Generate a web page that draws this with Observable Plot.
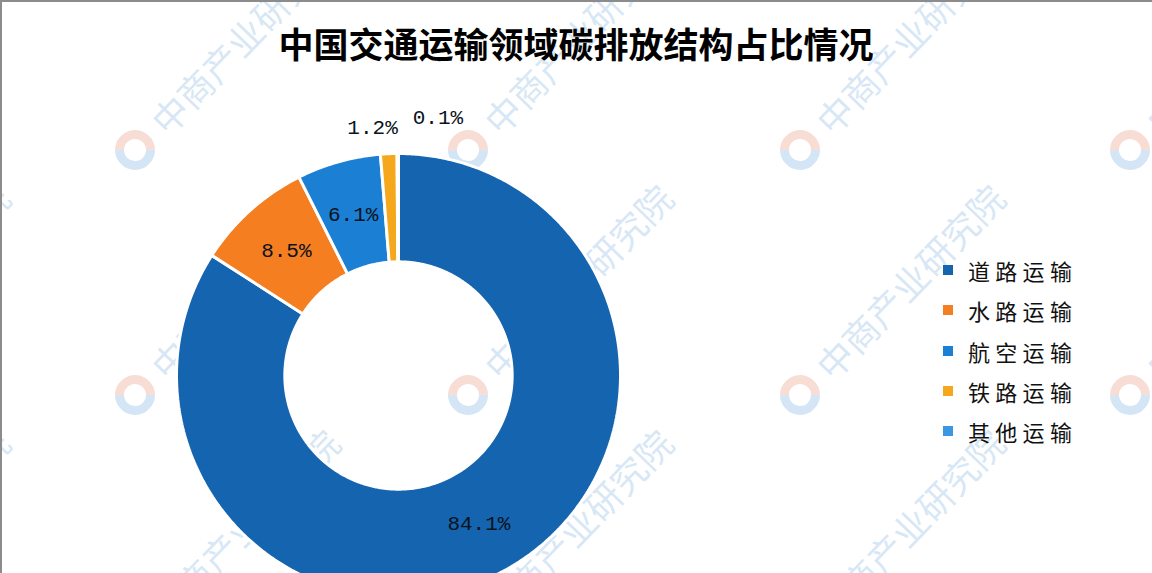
<!DOCTYPE html>
<html>
<head>
<meta charset="utf-8">
<script src="https://cdn.jsdelivr.net/npm/d3@7"></script>
<script src="https://cdn.jsdelivr.net/npm/@observablehq/plot@0.6"></script>
<style>
  html, body { margin: 0; padding: 0; background: #fff; }
  #wrap { position: relative; width: 1152px; height: 573px; overflow: hidden; background: #fff; }
  #wm { position: absolute; left: 0; top: 0; width: 1152px; height: 573px; }
  .wmitem { position: absolute; transform-origin: 0 0; transform: rotate(-46deg); white-space: nowrap;
            font-family: "Noto Sans CJK SC", sans-serif; font-size: 36px; color: rgba(160,198,232,0.42); }
  .wmlogo { position: absolute; left: -20px; top: -20px; width: 40px; height: 40px; border-radius: 50%;
            box-sizing: border-box; border: 9px solid rgba(160,198,232,0.45); border-right-color: rgba(240,180,160,0.45); border-top-color: rgba(240,180,160,0.45); }
  .wmtext { position: absolute; left: 32px; top: -27px; }
  #chart { position: absolute; left: 0; top: 0; }
  #title { position: absolute; left: 0; top: 19px; width: 1152px; text-align: center;
           font-family: "Noto Sans CJK SC", sans-serif; font-weight: 700; font-size: 35px; line-height: 48px; color: #000; }
  #legend { position: absolute; left: 943px; top: 250px; font-family: "Noto Sans CJK SC", sans-serif; }
  .lg { position: absolute; left: 0; height: 40px; display: flex; align-items: center; white-space: nowrap; }
  .sw { width: 10px; height: 10px; margin-right: 15px; }
  .lt { font-size: 22px; letter-spacing: 5.3px; color: #111; }
  #frame { position: absolute; left: 0; top: 0; width: 1152px; height: 573px; box-sizing: border-box;
           border-top: 2px solid #8c8c8c; border-left: 2px solid #8c8c8c; pointer-events: none; }
</style>
</head>
<body>
<div id="wrap">
  <div id="wm"></div>
  <div id="chart"></div>
  <div id="title"></div>
  <div id="legend"></div>
  <div id="frame"></div>
</div>
<script>
// ---- data ----
const titleText = "中国交通运输领域碳排放结构占比情况";
const categories = ["道路运输", "水路运输", "航空运输", "铁路运输", "其他运输"];
const shares = [84.1, 8.5, 6.1, 1.2, 0.1];
const labelTexts = ["84.1%", "8.5%", "6.1%", "1.2%", "0.1%"];
const colors = ["#1564AF", "#F47E20", "#1B7FD4", "#F6A81C", "#3C96E0"];
const watermarkText = "中商产业研究院";

// ---- layout ----
const cx = 398, cy = 375, R = 222;
const innerFrac = 0.512;

document.getElementById("title").textContent = titleText;

// slice geometry
const total = d3.sum(shares);
let cum = 0;
const slices = categories.map((cat, i) => {
  const a0 = cum / total * 2 * Math.PI;
  cum += shares[i];
  const a1 = cum / total * 2 * Math.PI;
  return {cat, a0, a1, share: shares[i], label: labelTexts[i]};
});
const pts = [];
for (const s of slices) {
  const n = Math.max(2, Math.ceil((s.a1 - s.a0) / (Math.PI / 360)));
  for (let k = 0; k <= n; k++) {
    const a = s.a0 + (s.a1 - s.a0) * k / n;
    pts.push({cat: s.cat, x: Math.sin(a), y: Math.cos(a)});
  }
  for (let k = n; k >= 0; k--) {
    const a = s.a0 + (s.a1 - s.a0) * k / n;
    pts.push({cat: s.cat, x: innerFrac * Math.sin(a), y: innerFrac * Math.cos(a)});
  }
}
const mid = s => (s.a0 + s.a1) / 2;
const rMid = (1 + innerFrac) / 2;
const inside = slices.filter(s => s.share >= 5).map(s => ({label: s.label, x: rMid * Math.sin(mid(s)), y: rMid * Math.cos(mid(s))}));
const outside = slices.filter(s => s.share < 5).map(s => ({label: s.label, x: 1.1 * Math.sin(mid(s)), y: 1.1 * Math.cos(mid(s))}));

const labelStyle = {fontSize: 21, fill: "#0b1220", fontFamily: "'Liberation Mono', 'DejaVu Sans Mono', monospace"};

const plot = Plot.plot({
  width: 1152,
  height: 573,
  margin: 0,
  x: {domain: [-1, 1], range: [cx - R, cx + R], axis: null},
  y: {domain: [-1, 1], range: [cy + R, cy - R], axis: null},
  color: {domain: categories, range: colors},
  style: {background: "transparent", overflow: "visible"},
  marks: [
    Plot.line(pts, {x: "x", y: "y", z: "cat", fill: "cat", stroke: "white", strokeWidth: 3, strokeLinejoin: "miter", curve: "linear-closed"}),
    Plot.text(inside, {x: "x", y: "y", text: "label", ...labelStyle}),
    Plot.text(outside.slice(0, 1), {x: "x", y: "y", text: "label", textAnchor: "end", dx: 10, dy: -4, ...labelStyle}),
    Plot.text(outside.slice(1), {x: "x", y: "y", text: "label", textAnchor: "start", dx: 15, dy: -14, ...labelStyle})
  ]
});
document.getElementById("chart").appendChild(plot);

// legend from the plot's color scale
const colorScale = plot.scale("color");
const legend = document.getElementById("legend");
colorScale.domain.forEach((cat, i) => {
  const item = document.createElement("div");
  item.className = "lg";
  item.style.top = (i * 40.3) + "px";
  const sw = document.createElement("div");
  sw.className = "sw";
  sw.style.background = colorScale.range[i];
  const t = document.createElement("span");
  t.className = "lt";
  t.textContent = cat;
  item.appendChild(sw); item.appendChild(t);
  legend.appendChild(item);
});

// faint watermark, as in the reference
const wm = document.getElementById("wm");
const wmRowsY = [150, 395, 640];
const wmColsX = [-195, 135, 468, 800, 1130];
for (const y of wmRowsY) for (const x of wmColsX) {
  const d = document.createElement("div");
  d.className = "wmitem";
  d.style.left = x + "px"; d.style.top = y + "px";
  const logo = document.createElement("div"); logo.className = "wmlogo";
  const tx = document.createElement("div"); tx.className = "wmtext"; tx.textContent = watermarkText;
  d.appendChild(logo); d.appendChild(tx);
  wm.appendChild(d);
}
</script>
</body>
</html>
